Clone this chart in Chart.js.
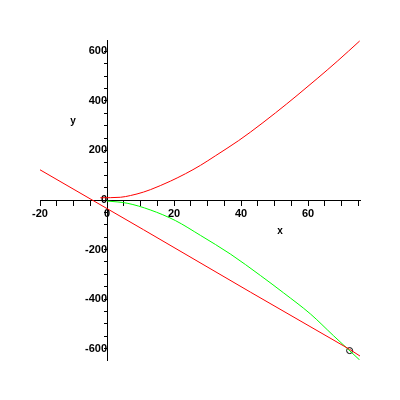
<!DOCTYPE html>
<html>
<head>
<meta charset="utf-8">
<script src="https://cdn.jsdelivr.net/npm/chart.js@4"></script>
<style>
  html, body { margin: 0; padding: 0; background: #fff; }
  #wrap { width: 400px; height: 400px; }
</style>
</head>
<body>
<div id="wrap"><canvas id="plot" width="400" height="400"></canvas></div>
<script>
// values
const curveX = [-2, 4, 7, 10.9, 13, 15.9, 18.9, 23.4, 27.9, 32.3, 39.3, 42.8, 50.3, 56.7, 62.7, 68.7, 75.4];
const curveY = [9, 11, 18, 32, 42, 58, 76, 106, 140, 178, 240, 274, 352, 422, 490, 560, 642];

const lineX = [-20, 10.9, 42.8, 72.4, 75.5];
const lineY = [122, -120, -372, -603, -630];

const greenX = [0, 6, 12.9, 20.4, 27.9, 36.8, 45.8, 52.7, 60.7, 67.6, 75.4];
const greenY = [-4, -13, -40, -83, -143, -218, -305, -375, -460, -548, -646];

const markX = [72.4];
const markY = [-608];

const xLabels = [-20, 0, 20, 40, 60];
const yLabels = [-600, -400, -200, 0, 200, 400, 600];

const toPoints = (xs, ys) => xs.map((x, i) => ({ x, y: ys[i] }));

// axis names sit inside the plot, like the original
const axisNames = {
  id: "axisNames",
  afterDraw(chart) {
    const ctx = chart.ctx;
    ctx.save();
    ctx.fillStyle = "#000";
    ctx.font = "bold 10px 'Liberation Sans'";
    ctx.textAlign = "center";
    ctx.textBaseline = "middle";
    ctx.fillText("x", 280, 231);
    ctx.fillText("y", 73, 121);
    ctx.restore();
  },
};

const tickFont = { family: "'Liberation Sans'", size: 11, weight: "bold" };

new Chart(document.getElementById("plot"), {
  type: "scatter",
  data: {
    datasets: [
      {
        data: toPoints(curveX, curveY),
        showLine: true,
        borderColor: "#ff0000",
        borderWidth: 1,
        pointRadius: 0,
        cubicInterpolationMode: "monotone",
      },
      {
        data: toPoints(lineX, lineY),
        showLine: true,
        borderColor: "#ff0000",
        borderWidth: 1,
        pointRadius: 0,
      },
      {
        data: toPoints(greenX, greenY),
        showLine: true,
        borderColor: "#00ff00",
        borderWidth: 1,
        pointRadius: 0,
        cubicInterpolationMode: "monotone",
      },
      {
        data: toPoints(markX, markY),
        showLine: false,
        pointRadius: 3,
        borderColor: "#000",
        backgroundColor: "rgba(255,255,255,0)",
        pointBorderColor: "#000",
        pointBackgroundColor: "rgba(255,255,255,0)",
        pointBorderWidth: 1,
      },
    ],
  },
  options: {
    responsive: false,
    animation: false,
    layout: { padding: { left: 40, right: 40, top: 40, bottom: 40 } },
    plugins: { legend: { display: false }, tooltip: { enabled: false } },
    scales: {
      x: {
        type: "linear",
        position: { y: 0 },
        min: -20,
        max: 75.5,
        border: { display: true, color: "#000", width: 1 },
        grid: { drawOnChartArea: false, drawTicks: true, tickLength: 5, color: "#000" },
        ticks: {
          stepSize: 5,
          includeBounds: false,
          maxRotation: 0,
          autoSkip: false,
          padding: 2,
          color: "#000",
          font: tickFont,
          callback: (v) => (xLabels.includes(v) ? String(v) : ""),
        },
      },
      y: {
        type: "linear",
        position: { x: 0 },
        min: -646,
        max: 646,
        border: { display: true, color: "#000", width: 1 },
        grid: { drawOnChartArea: false, drawTicks: true, tickLength: 3, color: "#000" },
        ticks: {
          stepSize: 50,
          includeBounds: false,
          autoSkip: false,
          padding: 3,
          color: "#000",
          font: tickFont,
          callback: (v) => (yLabels.includes(v) ? String(v) : ""),
        },
      },
    },
  },
  plugins: [axisNames],
});
</script>
</body>
</html>
